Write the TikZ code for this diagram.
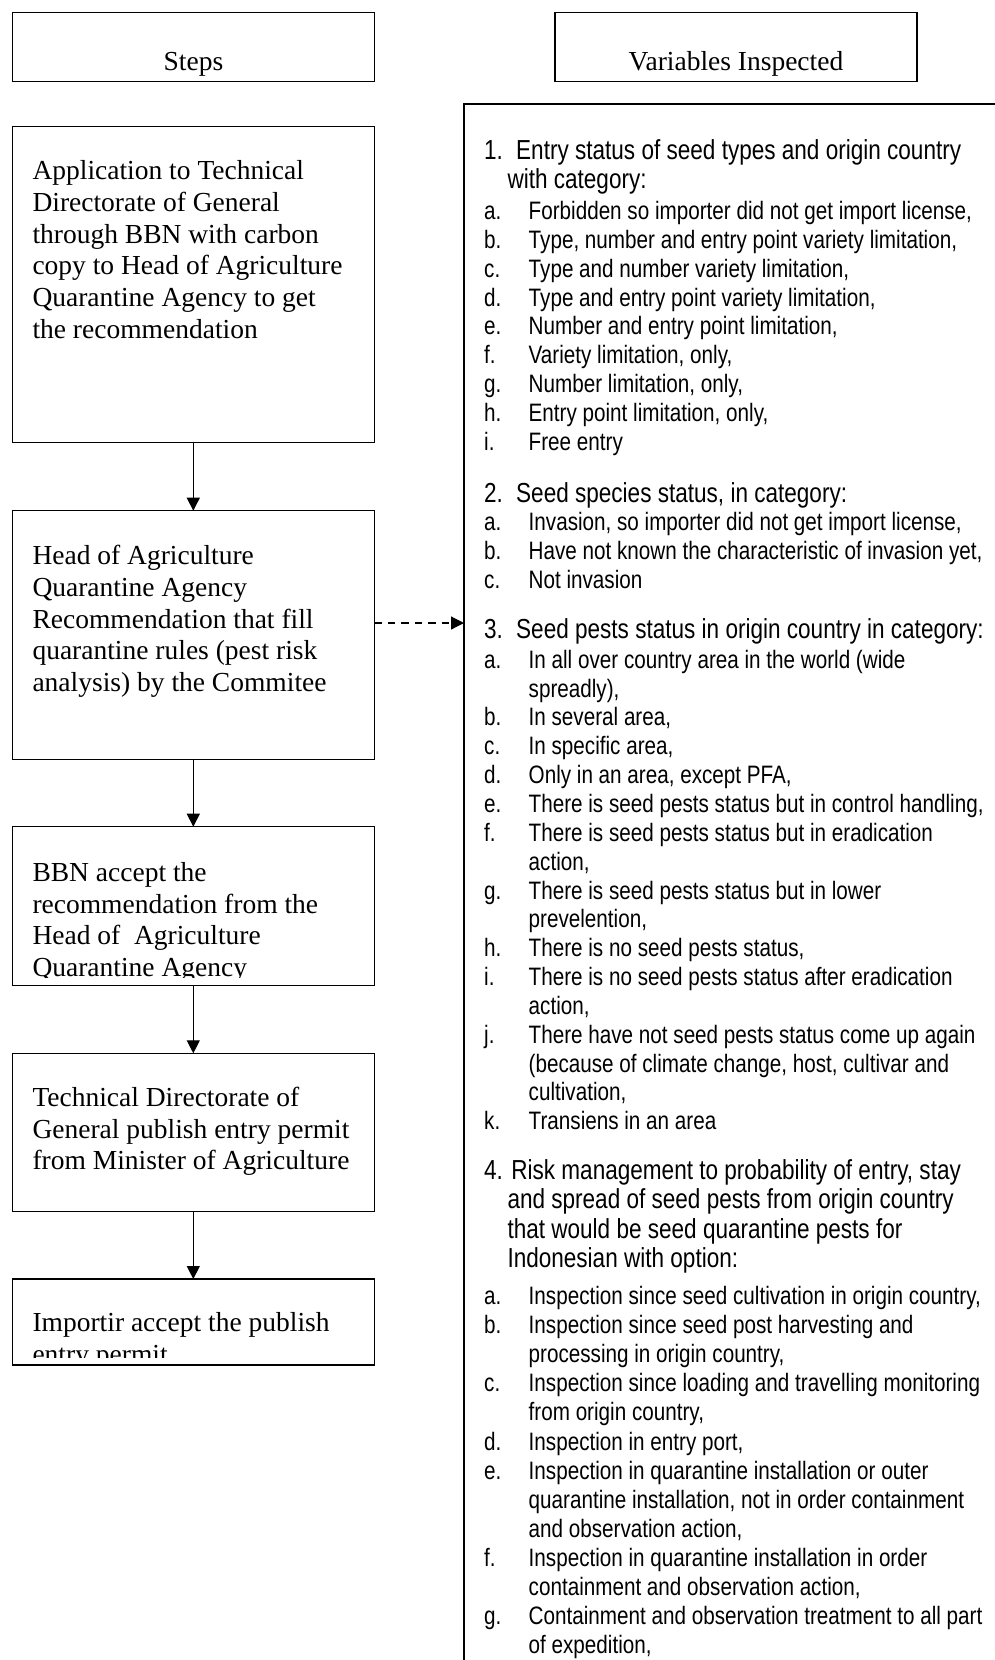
\documentclass[tikz,border=0pt]{standalone}
\usepackage{fontspec}
\setmainfont{Liberation Serif}
\newfontfamily\narrowsans[FakeStretch=0.82]{Liberation Sans}
\usetikzlibrary{arrows.meta}

% one row of a lettered list: tag at the left margin, text at the indent
\newcommand\entryrow[4]{%
  \node[entrytext] (#1-tag) at (484,#2) {#3};
  \node[entrytext] (#1) at (528.5,#2) {#4};}
% continuation line of a lettered entry
\newcommand\entrycont[3]{\node[entrytext] (#1) at (528.5,#2) {#3};}

\begin{document}
\begin{tikzpicture}[x=1pt,y=-1pt,
  boxline/.style={draw=black, line width=1.5pt, inner sep=0pt, outer sep=0pt, anchor=north west},
  steptext/.style={font=\fontsize{27.5}{31.7}\selectfont, inner sep=0pt, anchor=base west},
  titletext/.style={font=\fontsize{27.5}{31.7}\selectfont, inner sep=0pt, anchor=base},
  secthead/.style={font=\narrowsans\fontsize{27.5}{29.5}\selectfont, inner sep=0pt, anchor=base west},
  entrytext/.style={font=\narrowsans\fontsize{25.2}{28.85}\selectfont, inner sep=0pt, anchor=base west},
  flow/.style={line width=1.2pt, -{Triangle[length=13pt,width=13pt]}},
  refer/.style={flow, dash pattern=on 7.5pt off 6pt}]

\useasboundingbox (0,0) rectangle (995,1660);
\clip (0,0) rectangle (995,1660);
\fill[white] (0,0) rectangle (995,1660);

% column titles
\node[boxline, minimum width=361.7pt, minimum height=68.6pt] (steps) at (12.7,12.7) {};
\node[titletext] (steps-label) at (193.5,70.5) {Steps};
\node[boxline, minimum width=362pt, minimum height=68.6pt] (vars) at (555,12.7) {};
\node[titletext] (vars-label) at (736,70.5) {Variables Inspected};

% list frame (runs past the page edge)
\node[boxline, minimum width=600pt, minimum height=1700pt] (list) at (464,104) {};

% procedure boxes
\node[boxline, minimum width=362pt, minimum height=316pt] (b1) at (12.3,126.7) {};
\node[boxline, minimum width=362pt, minimum height=248.6pt] (b2) at (12.3,510.7) {};
\node[boxline, minimum width=362pt, minimum height=158.6pt] (b3) at (12.3,826.7) {};
\node[boxline, minimum width=362pt, minimum height=158.4pt] (b4) at (12.3,1053.3) {};
\node[boxline, minimum width=362pt, minimum height=86pt] (b5) at (12.3,1279) {};

\draw[flow] (b1) -- (b2);
\draw[flow] (b2) -- (b3);
\draw[flow] (b3) -- (b4);
\draw[flow] (b4) -- (b5);
\draw[refer] ([yshift=12pt]b2.east) -- ([yshift=12pt]b2.east -| list.west);

% procedure texts
\node[steptext] (t1a) at (32.3,179.6) {Application to Technical};
\node[steptext] (t1b) at (32.3,211.3) {Directorate of General};
\node[steptext] (t1c) at (32.3,243.0) {through BBN with carbon};
\node[steptext] (t1d) at (32.3,274.7) {copy to Head of Agriculture};
\node[steptext] (t1e) at (32.3,306.4) {Quarantine Agency to get};
\node[steptext] (t1f) at (32.3,338.1) {the recommendation};

\node[steptext] (t2a) at (32.3,564.6) {Head of Agriculture};
\node[steptext] (t2b) at (32.3,596.3) {Quarantine Agency};
\node[steptext] (t2c) at (32.3,628.0) {Recommendation that fill};
\node[steptext] (t2d) at (32.3,659.7) {quarantine rules (pest risk};
\node[steptext] (t2e) at (32.3,691.4) {analysis) by the Commitee};

\begin{scope}
  \clip (12.3,826.7) rectangle (374.3,977);
  \node[steptext] (t3a) at (32.3,881.3) {BBN accept the};
  \node[steptext] (t3b) at (32.3,913.0) {recommendation from the};
  \node[steptext] (t3c) at (32.3,944.7) {Head of~ Agriculture};
  \node[steptext] (t3d) at (32.3,976.4) {Quarantine Agency};
\end{scope}

\node[steptext] (t4a) at (32.3,1106.3) {Technical Directorate of};
\node[steptext] (t4b) at (32.3,1138.0) {General publish entry permit};
\node[steptext] (t4c) at (32.3,1169.7) {from Minister of Agriculture};

\begin{scope}
  \clip (12.3,1279) rectangle (374.3,1357);
  \node[steptext] (t5a) at (32.3,1331.3) {Importir accept the publish};
  \node[steptext] (t5b) at (32.3,1363.0) {entry permit};
\end{scope}

% 1. entry status
\node[secthead] (s1-tag) at (484,159.5) {1.};
\node[secthead] (s1) at (516,159.5) {Entry status of seed types and origin country};
\node[secthead] (s1-2) at (507.3,188.5) {with category:};
\entryrow{s1a}{219.5}{a.}{Forbidden so importer did not get import license,}
\entryrow{s1b}{248.35}{b.}{Type, number and entry point variety limitation,}
\entryrow{s1c}{277.2}{c.}{Type and number variety limitation,}
\entryrow{s1d}{306.05}{d.}{Type and entry point variety limitation,}
\entryrow{s1e}{334.9}{e.}{Number and entry point limitation,}
\entryrow{s1f}{363.75}{f.}{Variety limitation, only,}
\entryrow{s1g}{392.6}{g.}{Number limitation, only,}
\entryrow{s1h}{421.45}{h.}{Entry point limitation, only,}
\entryrow{s1i}{450.3}{i.}{Free entry}

% 2. species status
\node[secthead] (s2-tag) at (484,502.2) {2.};
\node[secthead] (s2) at (516,502.2) {Seed species status, in category:};
\entryrow{s2a}{530.5}{a.}{Invasion, so importer did not get import license,}
\entryrow{s2b}{559.35}{b.}{Have not known the characteristic of invasion yet,}
\entryrow{s2c}{588.2}{c.}{Not invasion}

% 3. pest status
\node[secthead] (s3-tag) at (484,638.9) {3.};
\node[secthead] (s3) at (516,638.9) {Seed pests status in origin country in category:};
\entryrow{s3a}{668.2}{a.}{In all over country area in the world (wide}
\entrycont{s3a2}{697.05}{spreadly),}
\entryrow{s3b}{725.9}{b.}{In several area,}
\entryrow{s3c}{754.75}{c.}{In specific area,}
\entryrow{s3d}{783.6}{d.}{Only in an area, except PFA,}
\entryrow{s3e}{812.45}{e.}{There is seed pests status but in control handling,}
\entryrow{s3f}{841.3}{f.}{There is seed pests status but in eradication}
\entrycont{s3f2}{870.15}{action,}
\entryrow{s3g}{899.0}{g.}{There is seed pests status but in lower}
\entrycont{s3g2}{927.85}{prevelention,}
\entryrow{s3h}{956.7}{h.}{There is no seed pests status,}
\entryrow{s3i}{985.55}{i.}{There is no seed pests status after eradication}
\entrycont{s3i2}{1014.4}{action,}
\entryrow{s3j}{1043.25}{j.}{There have not seed pests status come up again}
\entrycont{s3j2}{1072.1}{(because of climate change, host, cultivar and}
\entrycont{s3j3}{1100.95}{cultivation,}
\entryrow{s3k}{1129.8}{k.}{Transiens in an area}

% 4. risk management
\node[secthead] (s4) at (484,1179.2) {4. Risk management to probability of entry, stay};
\node[secthead] (s4-2) at (507.3,1208.7) {and spread of seed pests from origin country};
\node[secthead] (s4-3) at (507.3,1238.2) {that would be seed quarantine pests for};
\node[secthead] (s4-4) at (507.3,1267.7) {Indonesian with option:};
\entryrow{s4a}{1304.5}{a.}{Inspection since seed cultivation in origin country,}
\entryrow{s4b}{1333.6}{b.}{Inspection since seed post harvesting and}
\entrycont{s4b2}{1362.7}{processing in origin country,}
\entryrow{s4c}{1391.8}{c.}{Inspection since loading and travelling monitoring}
\entrycont{s4c2}{1420.9}{from origin country,}
\entryrow{s4d}{1450.0}{d.}{Inspection in entry port,}
\entryrow{s4e}{1479.1}{e.}{Inspection in quarantine installation or outer}
\entrycont{s4e2}{1508.2}{quarantine installation, not in order containment}
\entrycont{s4e3}{1537.3}{and observation action,}
\entryrow{s4f}{1566.4}{f.}{Inspection in quarantine installation in order}
\entrycont{s4f2}{1595.5}{containment and observation action,}
\entryrow{s4g}{1624.6}{g.}{Containment and observation treatment to all part}
\entrycont{s4g2}{1653.7}{of expedition,}

\end{tikzpicture}
\end{document}
